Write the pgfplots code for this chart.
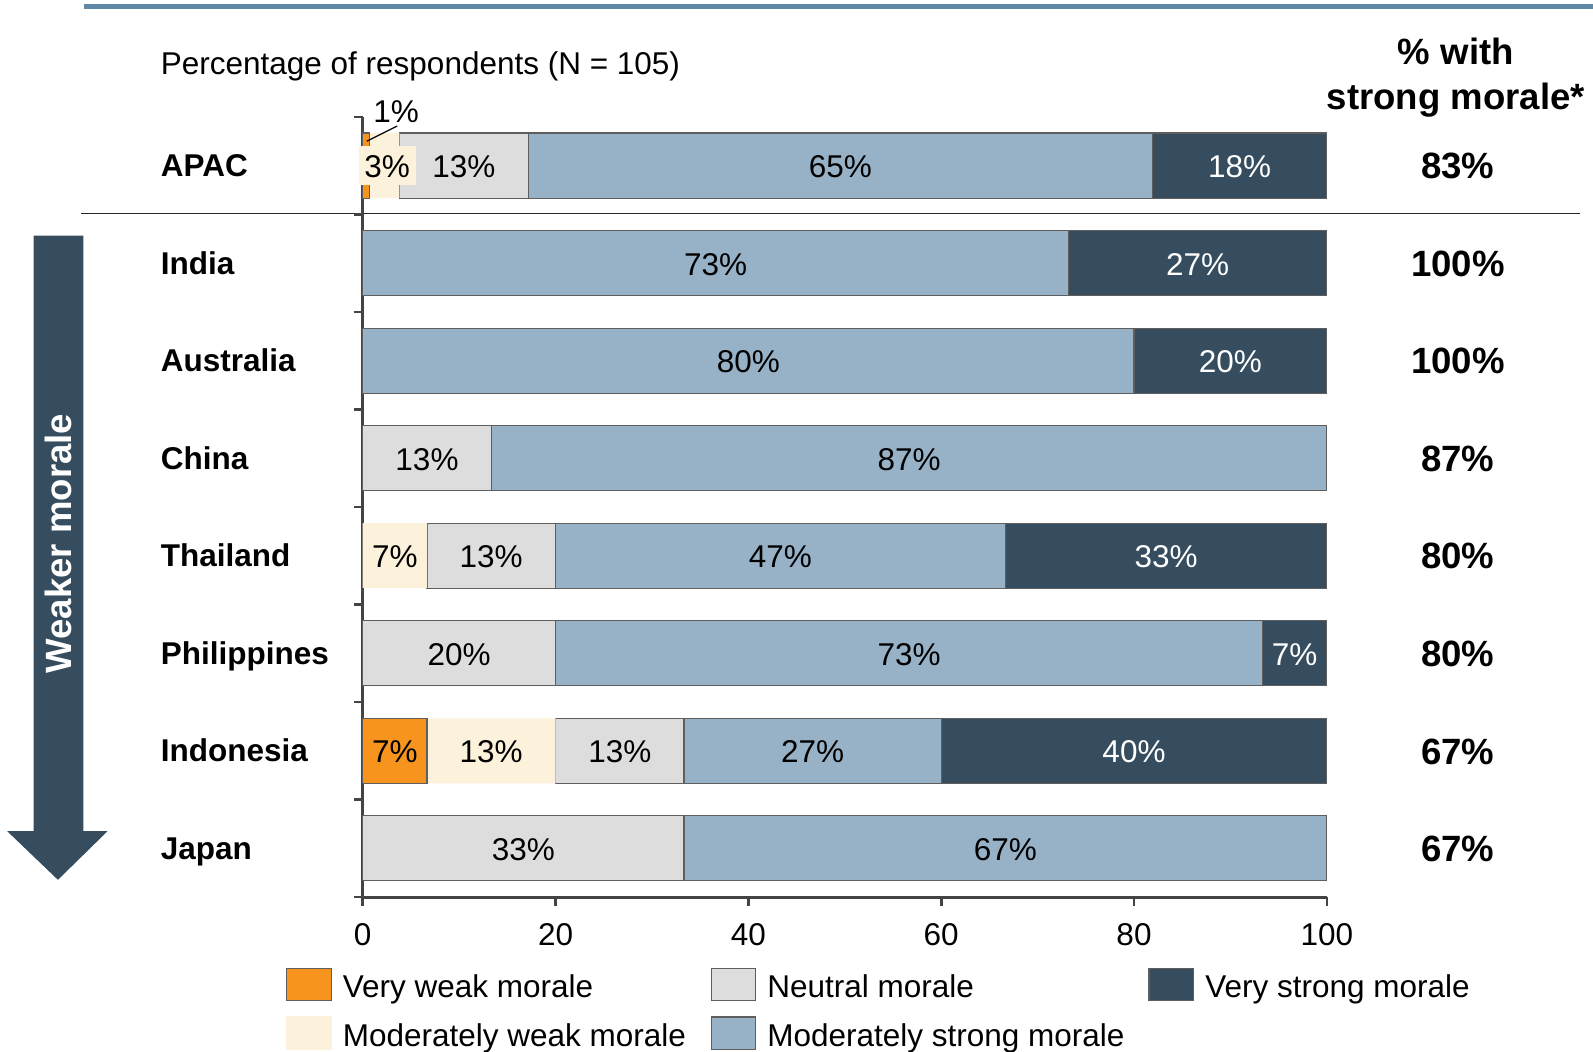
\documentclass[border=0pt]{standalone}
\usepackage{fontspec}
\setmainfont{Liberation Sans}
\usepackage{pgfplots}
\pgfplotsset{compat=1.18}

\definecolor{cvw}{HTML}{F7941E}
\definecolor{cmw}{HTML}{FCF2DC}
\definecolor{cneu}{HTML}{DDDDDD}
\definecolor{cms}{HTML}{97B1C6}
\definecolor{cvs}{HTML}{354D5E}
\definecolor{cedge}{HTML}{5E5E5E}
\definecolor{caxis}{HTML}{444444}
\definecolor{ctop}{HTML}{5F88A4}

\newcommand\fs{\fontsize{15.5pt}{18pt}\selectfont}
\newcommand\fb{\fontsize{18pt}{21pt}\selectfont\bfseries}
\tikzset{lab/.style={font=\fs, anchor=base, inner sep=0pt, yshift=-6pt}}

\begin{document}
\begin{tikzpicture}[x=0.5pt,y=-0.5pt]
\useasboundingbox (0,0) rectangle (1568,1035);
\draw[ctop, line width=2.5pt] (83,6) -- (1568,6);
\draw[black!85, line width=0.75pt] (80,210) -- (1555,210);

% arrow on the left
\fill[cvs] (33,232) -- (82,232) -- (82,818) -- (106,818) -- (57,866) -- (7,818) -- (33,818) -- cycle;
\node[white, font=\fb, rotate=90, anchor=base, inner sep=0pt] at (70,535) {Weaker morale};

\node[font=\fs, anchor=base west, inner sep=0pt] at (158,73) {Percentage of respondents (N = 105)};
\node[font=\fb, anchor=base, inner sep=0pt] at (1433,63) {\% with};
\node[font=\fb, anchor=base, inner sep=0pt] at (1433,108) {strong morale*};

\coordinate (O) at (357,883);
\begin{axis}[
  at={(O)}, anchor=south west,
  scale only axis, width=474.5pt, height=384pt,
  xbar stacked, bar width=32pt,
  xmin=0, xmax=100, ymin=-7.5, ymax=0.5,
  axis x line*=bottom, axis y line*=left,
  axis line style={draw=caxis, line width=1.5pt},
  tick align=outside, major tick length=4.5pt,
  tick style={draw=caxis, line width=1.3pt},
  xtick={0,20,...,100},
  ytick={-7.5,-6.5,-5.5,-4.5,-3.5,-2.5,-1.5,-0.5,0.5}, yticklabels={},
  xticklabel style={font=\fs, inner sep=0pt, yshift=-8.5pt},
  /pgf/number format/assume math mode=true,
  clip=false,
]
% rows: APAC, India, Australia, China, Thailand, Philippines, Indonesia, Japan
\addplot[fill=cvw, draw=cedge, line width=0.6pt] coordinates
  {(0.7,0) (0,-1) (0,-2) (0,-3) (0,-4) (0,-5) (6.67,-6) (0,-7)};
\addplot[fill=cmw, draw=none] coordinates
  {(3.1,0) (0,-1) (0,-2) (0,-3) (6.67,-4) (0,-5) (13.33,-6) (0,-7)};
\addplot[fill=cneu, draw=cedge, line width=0.6pt] coordinates
  {(13.4,0) (0,-1) (0,-2) (13.33,-3) (13.33,-4) (20,-5) (13.33,-6) (33.33,-7)};
\addplot[fill=cms, draw=cedge, line width=0.6pt] coordinates
  {(64.7,0) (73.2,-1) (80,-2) (86.67,-3) (46.67,-4) (73.33,-5) (26.67,-6) (66.67,-7)};
\addplot[fill=cvs, draw=cedge, line width=0.6pt] coordinates
  {(18.1,0) (26.8,-1) (20,-2) (0,-3) (33.33,-4) (6.67,-5) (40,-6) (0,-7)};

% anchor points of the segment labels (segment centres)
\path (axis cs:10.5,0) coordinate (t1) (axis cs:49.55,0) coordinate (t2)
  (axis cs:90.95,0) coordinate (t3)
  (axis cs:36.6,-1) coordinate (t4) (axis cs:86.6,-1) coordinate (t5)
  (axis cs:40,-2) coordinate (t6) (axis cs:90,-2) coordinate (t7)
  (axis cs:6.67,-3) coordinate (t8) (axis cs:56.67,-3) coordinate (t9)
  (axis cs:3.33,-4) coordinate (t10) (axis cs:13.33,-4) coordinate (t11)
  (axis cs:43.33,-4) coordinate (t12) (axis cs:83.33,-4) coordinate (t13)
  (axis cs:10,-5) coordinate (t14) (axis cs:56.67,-5) coordinate (t15)
  (axis cs:96.67,-5) coordinate (t16)
  (axis cs:3.33,-6) coordinate (t17) (axis cs:13.33,-6) coordinate (t18)
  (axis cs:26.67,-6) coordinate (t19) (axis cs:46.67,-6) coordinate (t20)
  (axis cs:80,-6) coordinate (t21)
  (axis cs:16.67,-7) coordinate (t22) (axis cs:66.67,-7) coordinate (t23);
\end{axis}

% segment labels
\foreach \c/\t/\col in {t1/13/black, t2/65/black, t3/18/white, t4/73/black, t5/27/white,
  t6/80/black, t7/20/white, t8/13/black, t9/87/black, t10/7/black, t11/13/black,
  t12/47/black, t13/33/white, t14/20/black, t15/73/black, t16/7/white, t17/7/black,
  t18/13/black, t19/13/black, t20/27/black, t21/40/white, t22/33/black, t23/67/black}
  \node[lab, text=\col] at (\c) {\t\%};

% APAC small-segment labels
\fill[cmw] (353,144) rectangle (409,182);
\node[font=\fs, anchor=base, inner sep=0pt] at (381,175) {3\%};
\node[font=\fs, anchor=base, inner sep=0pt] at (390,121) {1\%};
\draw[black, line width=0.6pt] (361,139) -- (391,124);

% category names
\foreach \n/\y in {APAC/163, India/259, Australia/355, China/451, Thailand/547,
  Philippines/643, Indonesia/739, Japan/835}
  \node[font=\fs\bfseries, anchor=base west, inner sep=0pt] at (158,\y+11) {\n};

% share with strong morale
\foreach \v/\y in {83/163, 100/259, 100/355, 87/451, 80/547, 80/643, 67/739, 67/835}
  \node[font=\fb, anchor=base, inner sep=0pt] at (1435,\y+13) {\v\%};

% legend
\foreach \x/\y/\f/\d/\t in {282/953/cvw/cedge/Very weak morale,
  700/953/cneu/cedge/Neutral morale, 1131/953/cvs/cedge/Very strong morale,
  282/1001/cmw/cmw/Moderately weak morale, 700/1001/cms/cedge/Moderately strong morale}
{
  \filldraw[fill=\f, draw=\d, line width=0.6pt] (\x,\y) rectangle ++(44,32);
  \node[font=\fs, anchor=base west, inner sep=0pt] at (\x+55,\y+29) {\t};
}
\end{tikzpicture}
\end{document}
